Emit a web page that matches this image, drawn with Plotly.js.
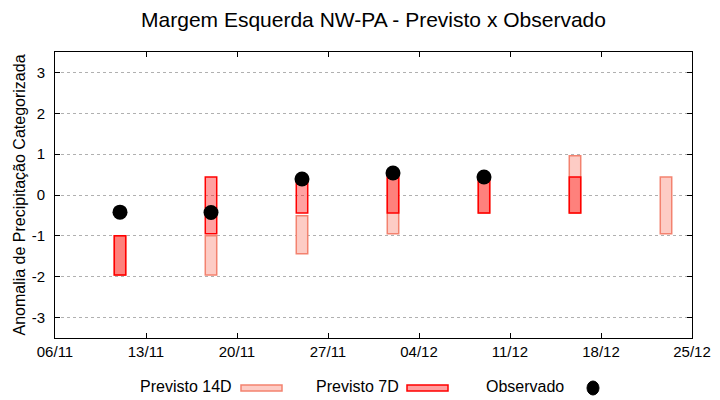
<!DOCTYPE html>
<html>
<head>
<meta charset="utf-8">
<script src="https://cdn.plot.ly/plotly-3.0.1.min.js"></script>
<style>html,body{margin:0;padding:0;background:#fff;}#chart{width:720px;height:400px;}</style>
</head>
<body>
<div id="chart"></div>
<script>
// Forecast 14 days (lower / upper bounds of category)
var dates14 = ["2023-11-11", "2023-11-18", "2023-11-25", "2023-12-02", "2023-12-09", "2023-12-16", "2023-12-23"];
var low14  = [-1.96, -1.96, -1.44, -0.95, -0.44, -0.44, -0.95];
var high14 = [-1.00, -1.00, -0.51,  0.44,  0.44,  0.96,  0.44];

// Forecast 7 days
var dates7 = ["2023-11-11", "2023-11-18", "2023-11-25", "2023-12-02", "2023-12-09", "2023-12-16"];
var low7  = [-1.96, -0.95, -0.44, -0.44, -0.44, -0.44];
var high7 = [-1.00,  0.44,  0.40,  0.44,  0.44,  0.44];

// Observed
var datesObs = ["2023-11-11", "2023-11-18", "2023-11-25", "2023-12-02", "2023-12-09"];
var obs = [-0.42, -0.43, 0.39, 0.54, 0.44];

var yTicks = [-3, -2, -1, 0, 1, 2, 3];
var yTickText = ["-3", "-2", "-1", "0", "1", "2", "3"];
var legendNames = ["Previsto 14D", "Previsto 7D", "Observado"];

var DAY = 86400000;
function diff(hi, lo) { return hi.map(function (v, i) { return v - lo[i]; }); }

var font = "Liberation Sans, Arial, sans-serif";
var narrow = "Liberation Sans Narrow, Arial Narrow, Liberation Sans, sans-serif";

var traces = [
  {
    type: "bar", x: dates14, y: diff(high14, low14), base: low14,
    width: 0.88 * DAY, name: legendNames[0], showlegend: false,
    marker: { color: "#fdccc5", line: { color: "#f3826f", width: 1.5 } },
    hoverinfo: "skip"
  },
  {
    type: "bar", x: dates7, y: diff(high7, low7), base: low7,
    width: 0.88 * DAY, name: legendNames[1], showlegend: false,
    marker: { color: "rgba(255,0,0,0.37)", line: { color: "#ff0000", width: 1.5 } },
    hoverinfo: "skip"
  },
  {
    type: "scatter", mode: "markers", x: datesObs, y: obs,
    name: legendNames[2], showlegend: false,
    marker: { color: "#000000", size: 15, symbol: "circle" },
    hoverinfo: "skip"
  }
];

var L = 55, R = 692, T = 52, B = 338;
function px(x) { return (x - L) / (R - L); }
function py(y) { return (B - y) / (B - T); }

var layout = {
  width: 720, height: 400,
  margin: { l: L, r: 720 - R, t: T, b: 400 - B },
  paper_bgcolor: "#ffffff", plot_bgcolor: "#ffffff",
  barmode: "overlay",
  showlegend: false,
  font: { family: font, color: "#000000", size: 15 },
  title: {
    text: "Margem Esquerda NW-PA - Previsto x Observado",
    font: { family: font, size: 21, color: "#000000" },
    x: 0.5, xref: "paper", xanchor: "center",
    y: 1 - 20 / 400, yref: "container", yanchor: "middle"
  },
  xaxis: {
    type: "date",
    range: ["2023-11-06", "2023-12-25"],
    tick0: "2023-11-06", dtick: 7 * DAY,
    tickformat: "%d/%m",
    ticks: "inside", ticklen: 5, tickcolor: "#000",
    showline: true, linecolor: "#000", linewidth: 1, mirror: "ticks",
    showgrid: false, zeroline: false,
    tickfont: { family: narrow, size: 15, color: "#000" }
  },
  yaxis: {
    range: [-3.5, 3.5],
    tickvals: yTicks, ticktext: yTickText,
    ticks: "inside", ticklen: 5, tickcolor: "#000",
    showline: true, linecolor: "#000", linewidth: 1, mirror: "ticks",
    showgrid: true, gridcolor: "#b0b0b0", griddash: "dot", gridwidth: 1,
    zeroline: false,
    ticklabelstandoff: 6,
    tickfont: { family: font, size: 15, color: "#000" },
    title: { text: "Anomalia de Precipitação Categorizada", font: { family: font, size: 16, color: "#000" }, standoff: 2 }
  },
  annotations: [
    { xref: "paper", yref: "paper", x: px(234), y: py(386), xanchor: "right", yanchor: "middle",
      text: legendNames[0], showarrow: false, font: { family: font, size: 16, color: "#000" } },
    { xref: "paper", yref: "paper", x: px(401), y: py(386), xanchor: "right", yanchor: "middle",
      text: legendNames[1], showarrow: false, font: { family: font, size: 16, color: "#000" } },
    { xref: "paper", yref: "paper", x: px(566), y: py(386), xanchor: "right", yanchor: "middle",
      text: legendNames[2], showarrow: false, font: { family: font, size: 16, color: "#000" } }
  ],
  shapes: [
    { type: "rect", xref: "paper", yref: "paper", x0: px(241), x1: px(282), y0: py(391), y1: py(385),
      fillcolor: "#fdccc5", line: { color: "#f3826f", width: 1.5 } },
    { type: "rect", xref: "paper", yref: "paper", x0: px(407), x1: px(448), y0: py(391), y1: py(385),
      fillcolor: "#ff9f9f", line: { color: "#ff0000", width: 1.5 } },
    { type: "circle", xref: "paper", yref: "paper", xsizemode: "pixel", ysizemode: "pixel",
      xanchor: px(593), yanchor: py(388), x0: -6, x1: 6, y0: -7, y1: 7,
      fillcolor: "#000", line: { color: "#000", width: 1 } }
  ]
};

Plotly.newPlot("chart", traces, layout, { displayModeBar: false, staticPlot: true });
</script>
</body>
</html>
